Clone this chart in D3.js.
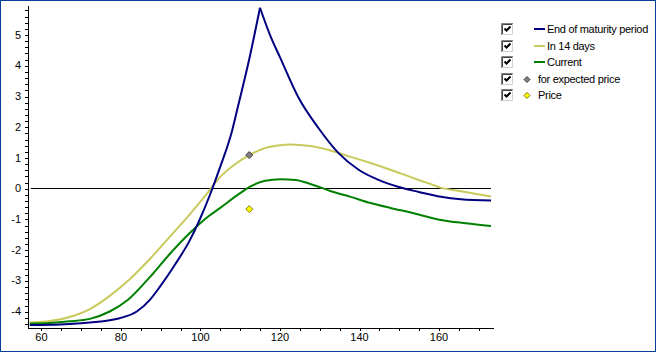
<!DOCTYPE html>
<meta charset="utf-8">
<script src="https://d3js.org/d3.v7.min.js"></script>
<style>
  body { margin: 0; background: #fff; }
  svg { display: block; font-family: "Liberation Sans", Arial, sans-serif; }
</style>
<body>
<div id="chart"></div>
<script>
  // series
  var maturityX = [57.2, 64.7, 72.3, 79.8, 84.1, 87.4, 89.9, 93.7, 97.5, 100.0, 102.5, 105.0, 108.1, 109.6, 112.6, 115.1,
                   117.6, 120.2, 124.7, 129.8, 134.8, 139.9, 144.9, 150.0, 155.0, 160.6, 165.6, 173.2];
  var maturityY = [-4.45, -4.43, -4.37, -4.23, -4.01, -3.63, -3.21, -2.49, -1.68, -1.00, -0.22, 0.66, 1.88, 2.68, 4.32, 5.87,
                   4.99, 4.24, 2.97, 1.96, 1.15, 0.60, 0.27, 0.04, -0.12, -0.28, -0.36, -0.40];

  var in14X = [57.2, 62.2, 67.2, 72.3, 77.3, 82.4, 87.4, 92.4, 97.5, 101.3, 105.1, 108.9, 112.4, 116.4, 120.2, 122.7,
               127.8, 132.8, 137.9, 142.9, 147.9, 153.0, 157.9, 160.5, 165.6, 173.2];
  var in14Y = [-4.37, -4.32, -4.19, -3.93, -3.50, -2.95, -2.30, -1.58, -0.84, -0.25, 0.37, 0.79, 1.08, 1.31, 1.40, 1.42,
               1.37, 1.23, 1.02, 0.82, 0.60, 0.36, 0.14, 0.02, -0.10, -0.27];

  var currentX = [57.2, 62.2, 67.2, 72.3, 77.3, 81.9, 87.4, 92.4, 97.5, 101.3, 105.1, 110.1, 112.6, 116.4, 120.2, 124.0,
                  127.8, 132.8, 137.9, 142.9, 147.9, 153.0, 160.5, 166.9, 173.2];
  var currentY = [-4.40, -4.38, -4.33, -4.25, -4.01, -3.63, -2.89, -2.14, -1.45, -1.00, -0.64, -0.16, 0.05, 0.24, 0.29, 0.27,
                  0.14, -0.09, -0.28, -0.48, -0.64, -0.79, -1.03, -1.14, -1.23];

  var expectedPoint = [112.4, 1.08];
  var pricePoint = [112.4, -0.68];

  var xTicks = [60, 80, 100, 120, 140, 160];
  var yTicks = [-4, -3, -2, -1, 0, 1, 2, 3, 4, 5];

  var legendNames = ["End of maturity period", "In 14 days", "Current", "for expected price", "Price"];
  var legendColors = ["#000080", "#c9c95c", "#008000", "#808080", "#ffff00"];

  var width = 656, height = 352;

  var svg = d3.select("#chart").append("svg")
    .attr("width", width)
    .attr("height", height);

  svg.append("rect")
    .attr("x", 0).attr("y", 0)
    .attr("width", width).attr("height", height)
    .attr("fill", "#fff");

  var x = d3.scaleLinear().domain([56.5, 173.7]).range([27, 493]);
  var y = d3.scaleLinear().domain([-4.53, 5.96]).range([327.5, 5]);

  // minor ticks
  var xMinor = d3.range(60, 171, 5);
  var yMinor = d3.range(-44, 60, 2).map(function (d) { return d / 10; });

  var xAxisG = svg.append("g")
    .attr("transform", "translate(0.5,327.5)")
    .style("shape-rendering", "crispEdges");
  xAxisG.call(d3.axisBottom(x).tickValues(xMinor).tickSize(3).tickSizeOuter(0).tickFormat(""));
  var xLab = svg.append("g")
    .attr("transform", "translate(0,327.5)")
    .call(d3.axisBottom(x).tickValues(xTicks).tickSize(0).tickPadding(6).tickFormat(String));
  xLab.select(".domain").remove();

  var yAxisG = svg.append("g")
    .attr("transform", "translate(27.5,0.5)")
    .style("shape-rendering", "crispEdges");
  yAxisG.call(d3.axisLeft(y).tickValues(yMinor).tickSize(3).tickSizeOuter(0).tickFormat(""));
  var yLab = svg.append("g")
    .attr("transform", "translate(21,0)")
    .call(d3.axisLeft(y).tickValues(yTicks).tickSize(0).tickPadding(0).tickFormat(String));
  yLab.select(".domain").remove();

  svg.selectAll(".domain").attr("stroke", "#000");
  svg.selectAll(".tick line").attr("stroke", "#000");
  svg.selectAll(".tick text").attr("fill", "#000").style("font-size", "11px")
    .style("font-family", "'Liberation Sans', Arial, sans-serif");

  // zero line
  svg.append("line")
    .attr("x1", x(maturityX[0]) + 1).attr("x2", x(maturityX[maturityX.length - 1]))
    .attr("y1", Math.round(y(0)) + 0.5).attr("y2", Math.round(y(0)) + 0.5)
    .attr("stroke", "#000").attr("stroke-width", 1);

  function pairs(xs, ys) {
    return xs.map(function (d, i) { return [d, ys[i]]; });
  }
  var line = d3.line()
    .x(function (d) { return x(d[0]); })
    .y(function (d) { return y(d[1]); })
    .curve(d3.curveMonotoneX);

  svg.append("path").datum(pairs(in14X, in14Y))
    .attr("fill", "none").attr("stroke", legendColors[1]).attr("stroke-width", 2).attr("d", line);
  svg.append("path").datum(pairs(currentX, currentY))
    .attr("fill", "none").attr("stroke", legendColors[2]).attr("stroke-width", 2).attr("d", line);

  // maturity curve has a sharp peak, draw both sides
  var mat = pairs(maturityX, maturityY);
  var peak = d3.maxIndex(maturityY);
  [mat.slice(0, peak + 1), mat.slice(peak)].forEach(function (part) {
    svg.append("path").datum(part)
      .attr("fill", "none").attr("stroke", legendColors[0]).attr("stroke-width", 2)
      .attr("d", line);
  });

  function diamond(cx, cy, r, fill, stroke) {
    svg.append("path")
      .attr("d", "M" + cx + "," + (cy - r) + "L" + (cx + r) + "," + cy + "L" + cx + "," + (cy + r) + "L" + (cx - r) + "," + cy + "Z")
      .attr("fill", fill).attr("stroke", stroke).attr("stroke-width", 1);
  }
  diamond(x(expectedPoint[0]), y(expectedPoint[1]), 3.5, "#808080", "#404040");
  diamond(x(pricePoint[0]), y(pricePoint[1]), 3.5, "#ffff00", "#808000");

  // legend
  var legend = svg.append("g");
  legendNames.forEach(function (name, i) {
    var cy = 29 + i * 16.5;
    var by = Math.round(cy - 6);
    var g = legend.append("g").attr("transform", "translate(501," + by + ")");
    g.append("rect").attr("x", 0).attr("y", 0).attr("width", 12).attr("height", 12).attr("fill", "#fff");
    g.append("path").attr("d", "M0.5,12V0.5H12").attr("fill", "none").attr("stroke", "#808080");
    g.append("path").attr("d", "M1.5,11V1.5H11").attr("fill", "none").attr("stroke", "#404040");
    g.append("path").attr("d", "M1.5,11.5H11.5V1").attr("fill", "none").attr("stroke", "#d4d0c8");
    g.append("path").attr("d", "M3.5,5.5L5.5,7.5L9.5,3.5").attr("fill", "none").attr("stroke", "#000")
      .attr("stroke-width", 2);
    var tx;
    if (i < 3) {
      legend.append("line")
        .attr("x1", 534).attr("x2", 545)
        .attr("y1", Math.round(cy)).attr("y2", Math.round(cy))
        .attr("stroke", legendColors[i]).attr("stroke-width", 2);
      tx = 547;
    } else {
      diamond(527, Math.round(cy) + 0.5, 3, legendColors[i], i === 3 ? "#404040" : "#808000");
      tx = 538;
    }
    legend.append("text")
      .attr("x", tx).attr("y", cy + 4)
      .style("font-size", "11px")
      .style("letter-spacing", "-0.3px")
      .attr("fill", "#000")
      .text(name);
  });

  // outer frame
  svg.append("rect")
    .attr("x", 0.5).attr("y", 0.5)
    .attr("width", width - 1).attr("height", height - 1)
    .attr("fill", "none").attr("stroke", "#0a3c9c");
</script>
</body>
